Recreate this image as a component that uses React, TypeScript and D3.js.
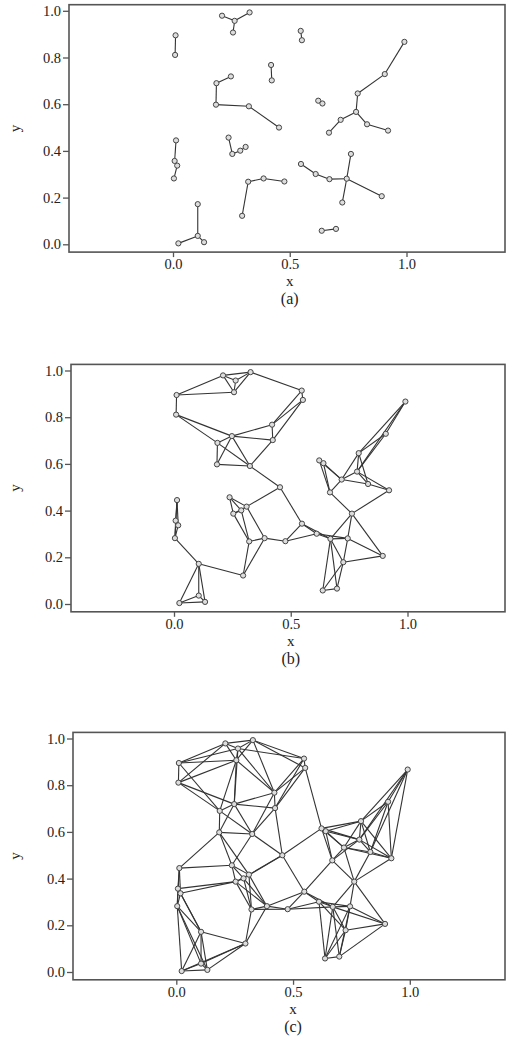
import React, { useEffect, useRef } from "react";
import * as d3 from "d3";

// point cloud
const xs = [
  0.011, 0.009, 0.21, 0.264, 0.328, 0.257, 0.186, 0.248, 0.184, 0.325,
  0.547, 0.552, 0.42, 0.423, 0.991, 0.907, 0.791, 0.784, 0.831, 0.921,
  0.622, 0.64, 0.718, 0.668, 0.454, 0.013, 0.007, 0.018, 0.004, 0.238,
  0.254, 0.288, 0.311, 0.106, 0.106, 0.023, 0.133, 0.322, 0.296, 0.388,
  0.477, 0.548, 0.611, 0.67, 0.744, 0.762, 0.725, 0.894, 0.637, 0.698,
];
const ys = [
  0.895, 0.811, 0.979, 0.957, 0.993, 0.907, 0.69, 0.719, 0.598, 0.591,
  0.914, 0.874, 0.768, 0.702, 0.867, 0.729, 0.646, 0.567, 0.514, 0.487,
  0.615, 0.603, 0.533, 0.478, 0.5, 0.445, 0.357, 0.337, 0.282, 0.457,
  0.387, 0.401, 0.417, 0.172, 0.036, 0.004, 0.009, 0.268, 0.122, 0.282,
  0.269, 0.344, 0.301, 0.279, 0.281, 0.387, 0.179, 0.206, 0.058, 0.066,
];
// number of nearest neighbours per panel
const kValues = [1, 3, 5];
const panelLabels = ["(a)", "(b)", "(c)"];
const xTicks = [0, 0.5, 1];
const yTicks = [0, 0.2, 0.4, 0.6, 0.8, 1];

// where each panel sits on the page
const panels = [
  { x0: 173, y0: 244.3, left: 69 },
  { x0: 174, y0: 604, left: 71 },
  { x0: 176.3, y0: 972, left: 73 },
];
const unit = 233.5;
const W = 507;
const H = 1061;
const font = "'Liberation Serif', 'Times New Roman', serif";

// symmetric kNN graph
function knnEdges(k: number) {
  const set = new Set<string>();
  const edges: [number, number][] = [];
  xs.forEach((x, i) => {
    const order = d3
      .range(xs.length)
      .filter((j) => j !== i)
      .sort(
        (a, b) =>
          Math.hypot(xs[a] - x, ys[a] - ys[i]) -
          Math.hypot(xs[b] - x, ys[b] - ys[i])
      );
    order.slice(0, k).forEach((j) => {
      const key = i < j ? `${i}-${j}` : `${j}-${i}`;
      if (!set.has(key)) {
        set.add(key);
        edges.push([i, j]);
      }
    });
  });
  return edges;
}

export default function App() {
  const ref = useRef<SVGSVGElement>(null);

  useEffect(() => {
    const svg = d3.select(ref.current);
    svg.selectAll("*").remove();

    panels.forEach((p, pi) => {
      const x = d3.scaleLinear().domain([0, 1]).range([p.x0, p.x0 + unit]);
      const y = d3.scaleLinear().domain([0, 1]).range([p.y0, p.y0 - unit]);
      const top = p.y0 - 239.6;
      const bottom = p.y0 + 7.8;
      const g = svg.append("g");

      // frame
      g.append("rect")
        .attr("x", p.left)
        .attr("y", top)
        .attr("width", 505 - p.left)
        .attr("height", bottom - top)
        .attr("fill", "none")
        .attr("stroke", "#555")
        .attr("stroke-width", 1.6);

      // axes
      const ay = g
        .append("g")
        .attr("transform", `translate(${p.left},0)`)
        .call(
          d3
            .axisLeft(y)
            .tickValues(yTicks)
            .tickFormat(d3.format(".1f"))
            .tickSize(6)
            .tickPadding(2)
        );
      const ax = g
        .append("g")
        .attr("transform", `translate(0,${bottom})`)
        .call(
          d3
            .axisBottom(x)
            .tickValues(xTicks)
            .tickFormat(d3.format(".1f"))
            .tickSize(5)
            .tickPadding(2)
        );
      [ax, ay].forEach((a) => {
        a.attr("font-family", font);
        a.select(".domain").remove();
        a.selectAll("line").attr("stroke", "#555").attr("stroke-width", 1.3);
        a.selectAll("text")
          .attr("fill", "#222")
          .attr("font-family", font)
          .attr("font-size", 14.5);
      });

      g.append("text")
        .attr("x", x(0.5))
        .attr("y", bottom + 34)
        .attr("text-anchor", "middle")
        .attr("fill", "#222")
        .attr("font-family", font)
        .attr("font-size", 15)
        .text("x");
      g.append("text")
        .attr("transform", `translate(20,${(top + bottom) / 2}) rotate(-90)`)
        .attr("text-anchor", "middle")
        .attr("fill", "#222")
        .attr("font-family", font)
        .attr("font-size", 15)
        .text("y");
      g.append("text")
        .attr("x", x(0.5))
        .attr("y", bottom + 52)
        .attr("text-anchor", "middle")
        .attr("fill", "#222")
        .attr("font-family", font)
        .attr("font-size", 16)
        .text(panelLabels[pi]);

      // graph edges
      g.append("g")
        .selectAll("line")
        .data(knnEdges(kValues[pi]))
        .join("line")
        .attr("x1", (d) => x(xs[d[0]]))
        .attr("y1", (d) => y(ys[d[0]]))
        .attr("x2", (d) => x(xs[d[1]]))
        .attr("y2", (d) => y(ys[d[1]]))
        .attr("stroke", "#333")
        .attr("stroke-width", 1.1);

      // points
      g.append("g")
        .selectAll("circle")
        .data(xs)
        .join("circle")
        .attr("cx", (d) => x(d))
        .attr("cy", (d, i) => y(ys[i]))
        .attr("r", 2.6)
        .attr("fill", "#ddd")
        .attr("stroke", "#444")
        .attr("stroke-width", 1);
    });
  }, []);

  return (
    <div style={{ position: "absolute", left: 0, top: 0 }}>
      <svg ref={ref} width={W} height={H} style={{ display: "block" }} />
    </div>
  );
}
